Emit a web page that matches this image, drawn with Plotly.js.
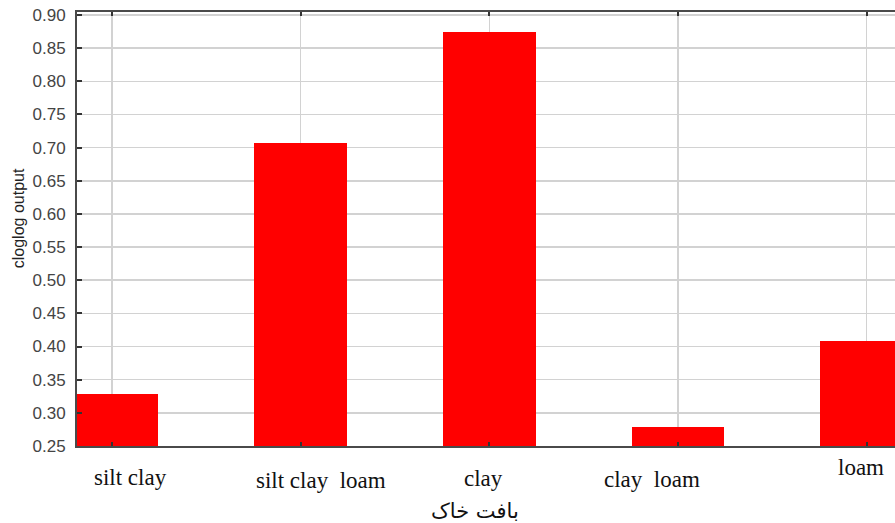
<!DOCTYPE html>
<html>
<head>
<meta charset="utf-8">
<script src="https://cdn.plot.ly/plotly-3.0.1.min.js"></script>
<style>html,body{margin:0;padding:0;background:#fff;}#chart{width:895px;height:523px;}</style>
</head>
<body>
<div id="chart"></div>
<script>
// Data
const categories = ["silt clay", "silt clay loam", "clay", "clay loam", "loam"];
const values = [0.328, 0.707, 0.875, 0.278, 0.408];
const yTickVals = [0.25, 0.30, 0.35, 0.40, 0.45, 0.50, 0.55, 0.60, 0.65, 0.70, 0.75, 0.80, 0.85, 0.90];
const yTickText = ["0.25", "0.30", "0.35", "0.40", "0.45", "0.50", "0.55", "0.60", "0.65", "0.70", "0.75", "0.80", "0.85", "0.90"];
const xTitle = "بافت خاک";
const yTitle = "cloglog output";

// Layout tweaks for the hand-placed category labels (positions, not data)
const labelDx = [0.10, 0.11, -0.03, -0.14, -0.03];
const labelY = [-0.072, -0.08, -0.075, -0.078, -0.05];

const idx = categories.map((c, i) => i);

const trace = {
  type: "bar",
  x: idx,
  y: values,
  base: 0,
  width: 0.49,
  marker: {color: "#ff0000", line: {width: 0}},
  hoverinfo: "skip"
};

const annotations = categories.map((c, i) => ({
  x: i + labelDx[i], xref: "x",
  y: labelY[i], yref: "paper",
  text: c.replace(/ loam/g, "  loam"), showarrow: false,
  xanchor: "center", yanchor: "middle",
  font: {family: "Liberation Serif, Times New Roman, serif", size: 23, color: "#111"}
}));
annotations.push({
  x: 0.487, xref: "paper", y: -0.15, yref: "paper",
  text: xTitle, showarrow: false, xanchor: "center", yanchor: "middle",
  font: {family: "DejaVu Sans, serif", size: 21, color: "#111"}
});
annotations.push({
  x: -0.072, xref: "paper", y: 0.525, yref: "paper",
  text: yTitle, showarrow: false, textangle: -90,
  xanchor: "center", yanchor: "middle",
  font: {family: "Liberation Sans, Arial, sans-serif", size: 16, color: "#222"}
});

const layout = {
  width: 895, height: 523,
  margin: {l: 77, r: 0, t: 12, b: 77, pad: 0},
  paper_bgcolor: "#fff", plot_bgcolor: "#fff",
  showlegend: false,
  bargap: 0,
  xaxis: {
    range: [-0.185, 4.15],
    tickvals: idx,
    showticklabels: false,
    showgrid: true, gridcolor: "#d2d2d2", gridwidth: 1.5,
    zeroline: false,
    showline: true, linecolor: "#4a4a4a", linewidth: 2, mirror: "ticks",
    ticks: "inside", ticklen: 4, tickcolor: "#333", tickwidth: 2,
    fixedrange: true
  },
  yaxis: {
    range: [0.25, 0.9045],
    tickvals: yTickVals, ticktext: yTickText,
    showgrid: true, gridcolor: "#d2d2d2", gridwidth: 1.5,
    zeroline: false,
    showline: true, linecolor: "#4a4a4a", linewidth: 2,
    ticks: "inside", ticklen: 5, tickcolor: "#333", tickwidth: 2,
    ticklabelstandoff: 6,
    tickfont: {family: "Liberation Sans, Arial, sans-serif", size: 17, color: "#444"},
    automargin: false,
    fixedrange: true
  },
  annotations: annotations
};

Plotly.newPlot("chart", [trace], layout, {staticPlot: true, displayModeBar: false});
</script>
</body>
</html>
